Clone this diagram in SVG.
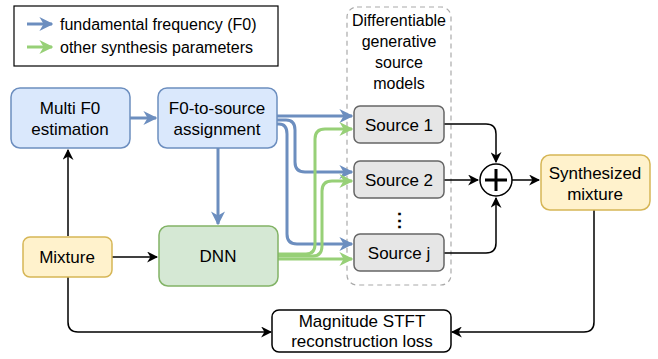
<svg xmlns="http://www.w3.org/2000/svg" width="658" height="359" viewBox="0 0 658 359">
<defs>
<style>
text{font-family:"Liberation Sans",Arial,sans-serif;font-size:17px;fill:#000;text-anchor:middle}
.small{font-size:16px}
.blue{fill:#dae8fc;stroke:#6c8ebf;stroke-width:1.5}
.green{fill:#d5e8d4;stroke:#82b366;stroke-width:1.5}
.yellow{fill:#fff2cc;stroke:#d6b656;stroke-width:1.5}
.grey{fill:#e6e6e6;stroke:#666666;stroke-width:1.5}
.white{fill:#ffffff;stroke:#000000;stroke-width:1.5}
.cb{fill:none;stroke:#6c8ebf;stroke-width:3}
.cg{fill:none;stroke:#97d077;stroke-width:3}
.ck{fill:none;stroke:#000;stroke-width:1.5}
</style>
<marker id="ab" viewBox="0 0 10 10" refX="9" refY="5" markerWidth="14" markerHeight="14" markerUnits="userSpaceOnUse" orient="auto"><path d="M0,0 L10,5 L0,10 L3,5 z" fill="#6c8ebf"/></marker>
<marker id="ag" viewBox="0 0 10 10" refX="9" refY="5" markerWidth="14" markerHeight="14" markerUnits="userSpaceOnUse" orient="auto"><path d="M0,0 L10,5 L0,10 L3,5 z" fill="#97d077"/></marker>
<marker id="ak" viewBox="0 0 10 10" refX="9" refY="5" markerWidth="11" markerHeight="11" markerUnits="userSpaceOnUse" orient="auto"><path d="M0,0 L10,5 L0,10 L3,5 z" fill="#000"/></marker>
</defs>
<rect width="658" height="359" fill="#fff"/>

<g id="legend">
<rect x="14" y="6" width="264" height="60" fill="#fff" stroke="#000" stroke-width="1.2"/>
<line x1="27" y1="24" x2="52" y2="24" class="cb" marker-end="url(#ab)"/>
<line x1="27" y1="47" x2="52" y2="47" class="cg" marker-end="url(#ag)"/>
<text x="60" y="30" class="small" style="text-anchor:start">fundamental frequency (F0)</text>
<text x="60" y="53" class="small" style="text-anchor:start">other synthesis parameters</text>
</g>

<g id="source-models-group">
<rect x="347" y="7" width="104" height="278" rx="10" fill="none" stroke="#aaaaaa" stroke-width="1.2" stroke-dasharray="5,4"/>
<text x="399" y="26" class="small">Differentiable</text>
<text x="399" y="47" class="small">generative</text>
<text x="399" y="68" class="small">source</text>
<text x="399" y="89" class="small">models</text>
</g>

<g id="connectors">
<line x1="130" y1="118" x2="156" y2="118" class="cb" marker-end="url(#ab)"/>
<line x1="218" y1="148" x2="218" y2="224" class="cb" marker-end="url(#ab)"/>
<path d="M277,116 H352" class="cb" marker-end="url(#ab)"/>
<path d="M277,120 H286 Q295,120 295,130 V162 Q295,172 305,172 H352" class="cb" marker-end="url(#ab)"/>
<path d="M277,124 H279 Q287,124 287,134 V234 Q287,244 297,244 H352" class="cb" marker-end="url(#ab)"/>
<path d="M278,254 H306 Q315,254 315,244 V139 Q315,129 325,129 H352" class="cg" marker-end="url(#ag)"/>
<path d="M278,256 H313 Q322,256 322,246 V191 Q322,181 332,181 H352" class="cg" marker-end="url(#ag)"/>
<path d="M278,259 H352" class="cg" marker-end="url(#ag)"/>
<path d="M444,124 H486 Q496,124 496,134 V162" class="ck" marker-end="url(#ak)"/>
<path d="M444,180 H478" class="ck" marker-end="url(#ak)"/>
<path d="M444,253 H486 Q496,253 496,243 V198" class="ck" marker-end="url(#ak)"/>
<path d="M512,180 H539" class="ck" marker-end="url(#ak)"/>
<path d="M594,210 V322 Q594,332 584,332 H452" class="ck" marker-end="url(#ak)"/>
<path d="M68,277 V322 Q68,332 78,332 H271" class="ck" marker-end="url(#ak)"/>
<path d="M68,236 V150" class="ck" marker-end="url(#ak)"/>
<path d="M112,257 H157" class="ck" marker-end="url(#ak)"/>
</g>

<g id="multi-f0">
<rect x="11" y="88" width="119" height="60" rx="9" class="blue"/>
<text x="70" y="114">Multi F0</text>
<text x="70" y="135">estimation</text>
</g>
<g id="f0-to-source">
<rect x="158" y="88" width="119" height="60" rx="9" class="blue"/>
<text x="217" y="114">F0-to-source</text>
<text x="217" y="135">assignment</text>
</g>
<g id="mixture">
<rect x="23" y="237" width="89" height="40" rx="7" class="yellow"/>
<text x="67" y="263">Mixture</text>
</g>
<g id="dnn">
<rect x="159" y="226" width="119" height="60" rx="9" class="green"/>
<text x="218" y="262">DNN</text>
</g>
<g id="source-1">
<rect x="354" y="106" width="90" height="37" rx="6" class="grey"/>
<text x="399" y="131" fill="#333">Source 1</text>
</g>
<g id="source-2">
<rect x="354" y="161" width="90" height="37" rx="6" class="grey"/>
<text x="399" y="186" fill="#333">Source 2</text>
</g>
<g id="dots">
<text x="399" y="227" style="font-size:19px;font-weight:bold">⋮</text>
</g>
<g id="source-j">
<rect x="354" y="234" width="90" height="37" rx="6" class="grey"/>
<text x="399" y="259" fill="#333">Source j</text>
</g>
<g id="sum">
<circle cx="496" cy="180" r="16" fill="#fff" stroke="#000" stroke-width="1.5"/>
<path d="M485,180 H507 M496,169 V191" stroke="#000" stroke-width="3" fill="none"/>
</g>
<g id="synthesized-mixture">
<rect x="541" y="155" width="109" height="55" rx="9" class="yellow"/>
<text x="595" y="179">Synthesized</text>
<text x="595" y="200">mixture</text>
</g>
<g id="loss">
<rect x="272" y="310" width="179" height="42" rx="7" class="white"/>
<text x="362" y="327">Magnitude STFT</text>
<text x="362" y="347">reconstruction loss</text>
</g>
</svg>
